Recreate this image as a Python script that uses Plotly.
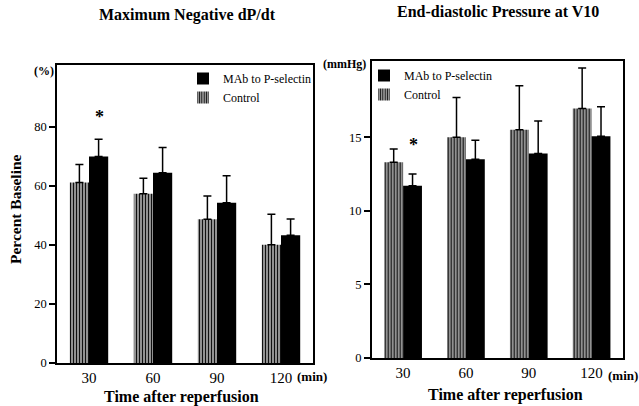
import plotly.graph_objects as go

categories = ["30", "60", "90", "120"]

# Left panel: Maximum Negative dP/dt (% baseline)
left_control = [61.2, 57.4, 48.7, 40.1]
left_control_err = [6.1, 5.2, 7.9, 10.3]
left_mab = [70.0, 64.5, 54.3, 43.3]
left_mab_err = [5.8, 8.5, 9.2, 5.5]

# Right panel: End-diastolic Pressure at V10 (mmHg)
right_control = [13.3, 15.0, 15.5, 16.95]
right_control_err = [0.9, 2.7, 3.0, 2.75]
right_mab = [11.7, 13.5, 13.9, 15.07]
right_mab_err = [0.8, 1.3, 2.2, 2.0]

left_yticks = [0, 20, 40, 60, 80]
right_yticks = [0, 5, 10, 15]

SERIF = "Liberation Serif, Times New Roman, serif"
control_pattern = dict(shape="|", size=3, solidity=0.6, fgcolor="#111111", bgcolor="#e6e6e6", fillmode="replace")

fig = go.Figure()


def add_panel(xa, ya, ctrl, ctrl_err, mab, mab_err, legend):
    fig.add_trace(go.Bar(
        x=categories, y=ctrl, name="Control", xaxis=xa, yaxis=ya,
        marker=dict(color="#e6e6e6", pattern=control_pattern, line=dict(width=0)),
        error_y=dict(type="data", symmetric=False, array=ctrl_err, arrayminus=[0] * 4,
                     color="black", thickness=1.5, width=4),
        legend=legend,
    ))
    fig.add_trace(go.Bar(
        x=categories, y=mab, name="MAb to P-selectin", xaxis=xa, yaxis=ya,
        marker=dict(color="black", line=dict(width=0)),
        error_y=dict(type="data", symmetric=False, array=mab_err, arrayminus=[0] * 4,
                     color="black", thickness=1.5, width=4),
        legend=legend,
    ))


add_panel("x", "y", left_control, left_control_err, left_mab, left_mab_err, "legend")
add_panel("x2", "y2", right_control, right_control_err, right_mab, right_mab_err, "legend2")

W, H = 639, 406
axis_common = dict(showline=True, linecolor="black", linewidth=1.5, mirror=True,
                   showgrid=False, zeroline=False, automargin=False)
xtickfont = dict(family=SERIF, size=15, color="black")
ytickfont = dict(family=SERIF, size=12.5, color="black")

fig.update_layout(
    template="none",
    font=dict(family=SERIF, color="black"),
    width=W, height=H, autosize=False,
    margin=dict(l=0, r=0, t=0, b=0, pad=0),
    paper_bgcolor="white", plot_bgcolor="white",
    barmode="group", bargap=0.4, bargroupgap=0,
    xaxis=dict(type="category", domain=[57 / W, 313 / W], anchor="y", range=[-0.5, 3.5],
               ticks="", ticklen=0, tickfont=xtickfont, **axis_common),
    yaxis=dict(domain=[1 - 363 / H, 1 - 65 / H], anchor="x", range=[0, 101],
               tickvals=left_yticks, ticks="outside", ticklen=6, tickwidth=1.5,
               tickcolor="black", tickfont=ytickfont, **axis_common),
    xaxis2=dict(type="category", domain=[371.7 / W, 623 / W], anchor="y2", range=[-0.5, 3.5],
                ticks="", ticklen=0, tickfont=xtickfont, **axis_common),
    yaxis2=dict(domain=[1 - 358 / H, 1 - 60.7 / H], anchor="x2", range=[0, 20.2],
                tickvals=right_yticks, ticks="outside", ticklen=6, tickwidth=1.5,
                tickcolor="black", tickfont=ytickfont, **axis_common),
    legend=dict(x=183 / W, y=1 - 64 / H, xanchor="left", yanchor="top",
                traceorder="reversed", bgcolor="rgba(0,0,0,0)", borderwidth=0,
                font=dict(family=SERIF, size=12, color="black")),
    legend2=dict(x=364 / W, y=1 - 61 / H, xanchor="left", yanchor="top",
                 traceorder="reversed", bgcolor="rgba(0,0,0,0)", borderwidth=0,
                 font=dict(family=SERIF, size=12, color="black")),
    showlegend=True,
)

ann = []


def add_text(text, px, py, font, **kw):
    ann.append(dict(text=text, x=px / W, y=1 - py / H, xref="paper", yref="paper",
                    xanchor="center", yanchor="middle", showarrow=False, font=font, **kw))


add_text("<b>Maximum Negative dP/dt</b>", 187, 15, dict(family=SERIF, size=16, color="black"))
add_text("<b>End-diastolic Pressure at V10</b>", 498, 12, dict(family=SERIF, size=16, color="black"))
ax_title_font = dict(family=SERIF, size=16, color="black")
add_text("<b>Time after reperfusion</b>", 181, 397, ax_title_font)
add_text("<b>Time after reperfusion</b>", 505, 395, ax_title_font)
add_text("<b>Percent Baseline</b>", 15, 209, dict(family=SERIF, size=15.5, color="black"), textangle=-90)
small = dict(family=SERIF, size=12, color="black")
add_text("<b>(%)</b>", 44, 71, small)
add_text("<b>(mmHg)</b>", 344, 64, small)
add_text("<b>(min)</b>", 312, 376, dict(family=SERIF, size=13, color="black"))
add_text("<b>(min)</b>", 623, 375, dict(family=SERIF, size=13, color="black"))

star = dict(family=SERIF, size=18, color="black")
ann.append(dict(text="<b>*</b>", x=0, y=83.4, xref="x", yref="y", xshift=10,
                showarrow=False, font=star))
ann.append(dict(text="<b>*</b>", x=0, y=14.5, xref="x2", yref="y2", xshift=10,
                showarrow=False, font=star))
fig.update_layout(annotations=ann)

fig.write_html("out.html")
